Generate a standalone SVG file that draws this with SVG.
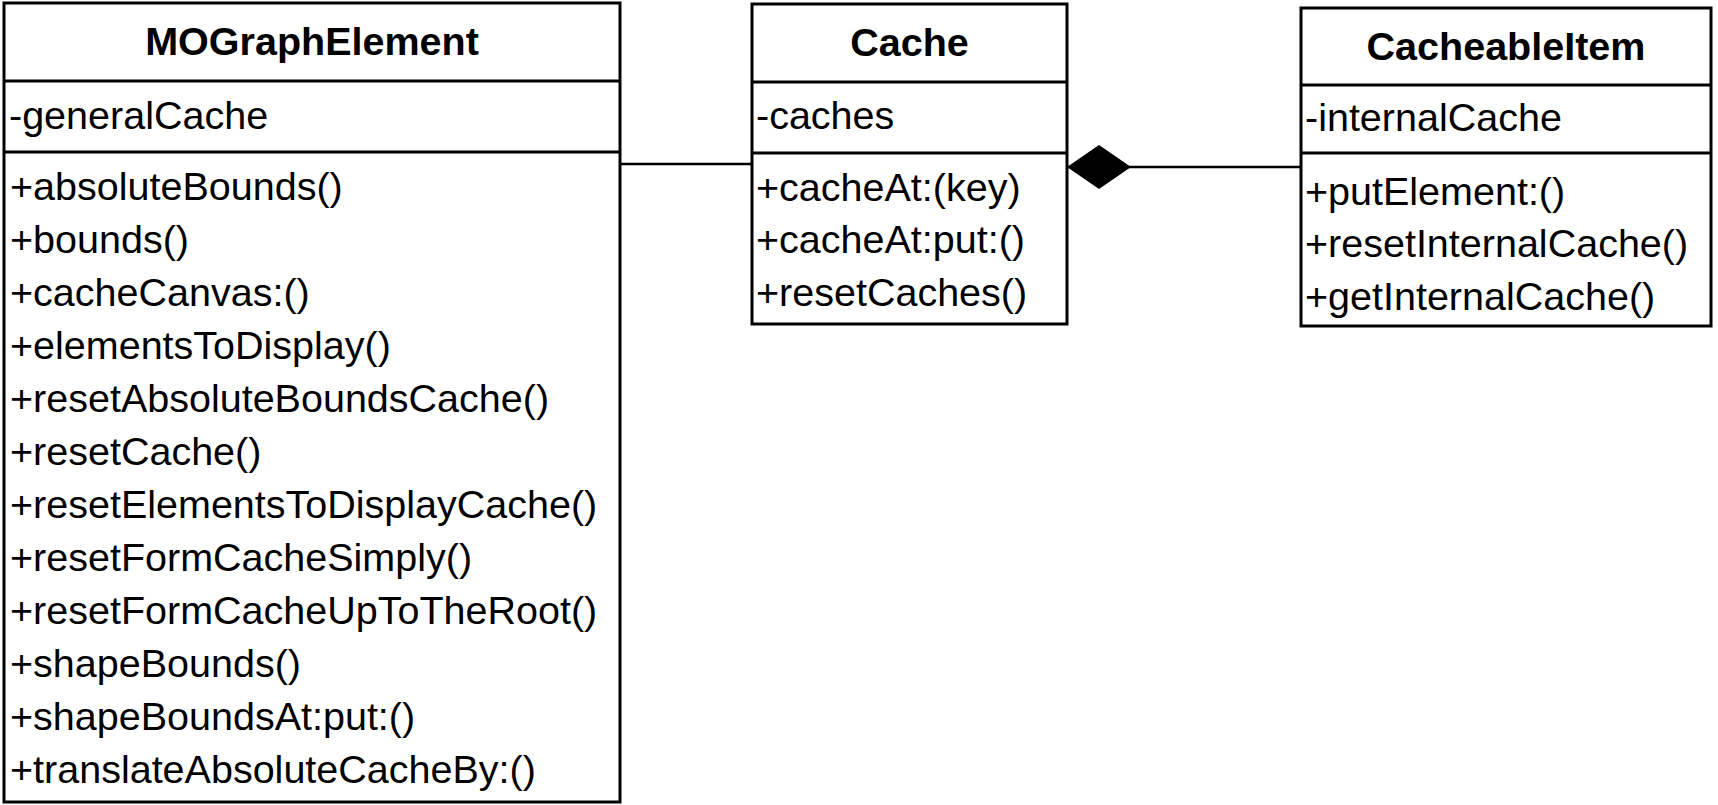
<svg xmlns="http://www.w3.org/2000/svg" width="1718" height="805" viewBox="0 0 1718 805">
<style>
.box{fill:#fff;stroke:#000;stroke-width:3}
.div{stroke:#000;stroke-width:3}
.t{font-family:"Liberation Sans",Arial,sans-serif;font-size:39.5px;fill:#000}
.h{font-family:"Liberation Sans",Arial,sans-serif;font-size:39.5px;font-weight:bold;fill:#000;text-anchor:middle}
.c{stroke:#000;stroke-width:2.5;fill:none}
</style>
<defs>
<marker id="diamond" viewBox="0 0 64 44" refX="0" refY="22" markerUnits="userSpaceOnUse" markerWidth="64" markerHeight="44" orient="auto">
<path d="M0,22 L32,0 L64,22 L32,44 Z" fill="#000"/>
</marker>
</defs>
<rect width="1718" height="805" fill="#fff"/>
<g id="connectors">
<line class="c" x1="620" y1="164" x2="752" y2="164"/>
<path class="c" d="M1067,167 L1301,167" marker-start="url(#diamond)"/>
</g>
<g id="MOGraphElement">
<rect class="box" x="4" y="3" width="616" height="799"/>
<line class="div" x1="4" y1="81" x2="620" y2="81"/>
<line class="div" x1="4" y1="152" x2="620" y2="152"/>
<text class="h" x="312" y="55">MOGraphElement</text>
<text class="t" x="9" y="129">-generalCache</text>
<text class="t" x="10" y="200">+absoluteBounds()</text>
<text class="t" x="10" y="253">+bounds()</text>
<text class="t" x="10" y="306">+cacheCanvas:()</text>
<text class="t" x="10" y="359">+elementsToDisplay()</text>
<text class="t" x="10" y="412">+resetAbsoluteBoundsCache()</text>
<text class="t" x="10" y="465">+resetCache()</text>
<text class="t" x="10" y="518">+resetElementsToDisplayCache()</text>
<text class="t" x="10" y="571">+resetFormCacheSimply()</text>
<text class="t" x="10" y="624">+resetFormCacheUpToTheRoot()</text>
<text class="t" x="10" y="677">+shapeBounds()</text>
<text class="t" x="10" y="730">+shapeBoundsAt:put:()</text>
<text class="t" x="10" y="783">+translateAbsoluteCacheBy:()</text>
</g>
<g id="Cache">
<rect class="box" x="752" y="4" width="315" height="320"/>
<line class="div" x1="752" y1="82" x2="1067" y2="82"/>
<line class="div" x1="752" y1="153" x2="1067" y2="153"/>
<text class="h" x="909.5" y="56">Cache</text>
<text class="t" x="756" y="129">-caches</text>
<text class="t" x="756" y="201">+cacheAt:(key)</text>
<text class="t" x="756" y="253">+cacheAt:put:()</text>
<text class="t" x="756" y="306">+resetCaches()</text>
</g>
<g id="CacheableItem">
<rect class="box" x="1301" y="8" width="410" height="318"/>
<line class="div" x1="1301" y1="85" x2="1711" y2="85"/>
<line class="div" x1="1301" y1="153" x2="1711" y2="153"/>
<text class="h" x="1506" y="60">CacheableItem</text>
<text class="t" x="1305" y="131">-internalCache</text>
<text class="t" x="1305" y="205">+putElement:()</text>
<text class="t" x="1305" y="257">+resetInternalCache()</text>
<text class="t" x="1305" y="310">+getInternalCache()</text>
</g>
</svg>
